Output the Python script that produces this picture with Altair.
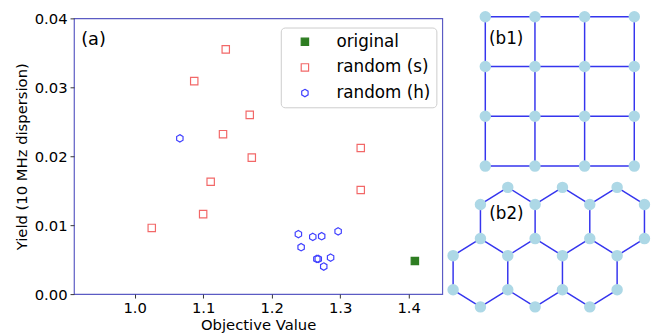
import altair as alt
import pandas as pd

# ---------------- data ----------------
orig_x = [1.409]
orig_y = [0.0048]

rand_s_x = [1.133, 1.087, 1.168, 1.129, 1.330, 1.171, 1.111, 1.330, 1.100, 1.025]
rand_s_y = [0.0355, 0.0309, 0.0260, 0.0232, 0.0212, 0.0198, 0.0163, 0.0151, 0.0116, 0.0096]

rand_h_x = [1.066, 1.239, 1.260, 1.273, 1.297, 1.243, 1.266, 1.268, 1.286, 1.276]
rand_h_y = [0.0226, 0.0087, 0.0083, 0.0084, 0.0091, 0.0068, 0.0051, 0.0051, 0.0053, 0.0040]

series_names = ["original", "random (s)", "random (h)"]
x_ticks = [1.0, 1.1, 1.2, 1.3, 1.4]
y_ticks = [0.0, 0.01, 0.02, 0.03, 0.04]

# square lattice (b1): 4 x 4 nodes
grid_cols = [0, 1, 2, 3]
grid_rows = [0, 1, 2, 3]

# honeycomb lattice (b2): node positions in lattice units (column index, row level)
hex_cols = [2, 4, 6, 1, 3, 5, 7, 1, 3, 5, 7, 0, 2, 4, 6, 0, 2, 4, 6, 1, 3, 5]
hex_rows = [0, 0, 0, 0.5, 0.5, 0.5, 0.5, 1.5, 1.5, 1.5, 1.5, 2, 2, 2, 2, 3, 3, 3, 3, 3.5, 3.5, 3.5]

# ---------------- tables ----------------
pts = pd.DataFrame({
    "x": orig_x + rand_s_x + rand_h_x,
    "y": orig_y + rand_s_y + rand_h_y,
    "series": [series_names[0]] * len(orig_x)
    + [series_names[1]] * len(rand_s_x)
    + [series_names[2]] * len(rand_h_x),
})

sq_nodes = pd.DataFrame([{"c": c, "r": r} for r in grid_rows for c in grid_cols])
sq_edges = []
for i, a in sq_nodes.iterrows():
    for j, b in sq_nodes.iterrows():
        if j > i and abs(a.c - b.c) + abs(a.r - b.r) == 1:
            sq_edges.append({"c": a.c, "r": a.r, "c2": b.c, "r2": b.r})
sq_edges = pd.DataFrame(sq_edges)

hex_nodes = pd.DataFrame({"c": hex_cols, "r": hex_rows})
hex_edges = []
for i in range(len(hex_cols)):
    for j in range(i + 1, len(hex_cols)):
        dc = abs(hex_cols[i] - hex_cols[j])
        dr = abs(hex_rows[i] - hex_rows[j])
        if (dc == 1 and dr == 0.5) or (dc == 0 and dr == 1):
            hex_edges.append({"c": hex_cols[i], "r": hex_rows[i],
                              "c2": hex_cols[j], "r2": hex_rows[j]})
hex_edges = pd.DataFrame(hex_edges)

FONT = "DejaVu Sans"
HEX = "M0,-1L0.866,-0.5L0.866,0.5L0,1L-0.866,0.5L-0.866,-0.5Z"

# ---------------- scatter (a) ----------------
xs = alt.Scale(domain=[0.9115, 1.449], nice=False, zero=False)
ys = alt.Scale(domain=[0, 0.04], nice=False)

points = alt.Chart(pts).mark_point(strokeWidth=1.2, opacity=1).encode(
    x=alt.X("x:Q", scale=xs, title="Objective Value",
            axis=alt.Axis(values=x_ticks, format=".1f")),
    y=alt.Y("y:Q", scale=ys, title="Yield (10 MHz dispersion)",
            axis=alt.Axis(values=y_ticks, format=".2f")),
    shape=alt.Shape("series:N", scale=alt.Scale(domain=series_names, range=["square", "square", HEX]), title=None),
    stroke=alt.Stroke("series:N", scale=alt.Scale(domain=series_names, range=["#2e7d22", "#f26868", "#4040ff"]), title=None),
    fill=alt.Fill("series:N", scale=alt.Scale(domain=series_names, range=["#2e7d22", "transparent", "transparent"]), title=None),
    size=alt.Size("series:N", scale=alt.Scale(domain=series_names, range=[56, 56, 40]), title=None),
)

label_a = alt.Chart(pd.DataFrame({"x": [0.940], "y": [0.0369], "t": ["(a)"]})).mark_text(
    fontSize=18, font=FONT, color="black", align="center", baseline="middle"
).encode(x=alt.X("x:Q", scale=xs), y=alt.Y("y:Q", scale=ys), text="t:N")

scatter = alt.layer(points, label_a).properties(
    width=374, height=280,
    view=alt.ViewBackground(stroke="#5b5bc4", strokeWidth=1.2),
)

# ---------------- lattice (b1) ----------------
b1x = alt.Scale(domain=[-0.767, 3.397], nice=False, zero=False)
b1y = alt.Scale(domain=[0.034, 3.198], nice=False, zero=False, reverse=True)

e1 = alt.Chart(sq_edges).mark_rule(color="#3535ee", strokeWidth=1.5).encode(
    x=alt.X("c:Q", scale=b1x, axis=None), y=alt.Y("r:Q", scale=b1y, axis=None),
    x2="c2:Q", y2="r2:Q")
n1 = alt.Chart(sq_nodes).mark_circle(color="#add8e6", opacity=1, size=135).encode(
    x=alt.X("c:Q", scale=b1x, axis=None), y=alt.Y("r:Q", scale=b1y, axis=None))
t1 = alt.Chart(pd.DataFrame({"c": [0.42], "r": [0.45], "t": ["(b1)"]})).mark_text(
    fontSize=17, font=FONT, color="black", align="center", baseline="middle"
).encode(x=alt.X("c:Q", scale=b1x, axis=None), y=alt.Y("r:Q", scale=b1y, axis=None), text="t:N")

b1 = alt.layer(e1, n1, t1).properties(
    width=210, height=160, view=alt.ViewBackground(stroke="transparent"))

# ---------------- lattice (b2) ----------------
b2x = alt.Scale(domain=[-0.216, 7.349], nice=False, zero=False)
b2y = alt.Scale(domain=[-0.219, 3.126], nice=False, zero=False, reverse=True)

e2 = alt.Chart(hex_edges).mark_rule(color="#3535ee", strokeWidth=1.5).encode(
    x=alt.X("c:Q", scale=b2x, axis=None), y=alt.Y("r:Q", scale=b2y, axis=None),
    x2="c2:Q", y2="r2:Q")
n2 = alt.Chart(hex_nodes).mark_circle(color="#add8e6", opacity=1, size=135).encode(
    x=alt.X("c:Q", scale=b2x, axis=None), y=alt.Y("r:Q", scale=b2y, axis=None))
t2 = alt.Chart(pd.DataFrame({"c": [1.95], "r": [0.78], "t": ["(b2)"]})).mark_text(
    fontSize=17, font=FONT, color="black", align="center", baseline="middle"
).encode(x=alt.X("c:Q", scale=b2x, axis=None), y=alt.Y("r:Q", scale=b2y, axis=None), text="t:N")

b2 = alt.layer(e2, n2, t2).properties(
    width=210, height=116, view=alt.ViewBackground(stroke="transparent"))

right = alt.vconcat(b1, b2, spacing=4, bounds="flush")

chart = alt.hconcat(scatter, right, spacing=5, bounds="flush").properties(
    padding={"left": 6, "top": 0, "right": 0, "bottom": 0}
).configure_axis(
    labelFont=FONT, titleFont=FONT, labelFontSize=15, titleFontSize=15,
    labelColor="black", titleColor="black", titleFontWeight="normal",
    tickColor="#333333", tickSize=4, domain=False, grid=False,
    labelPadding=3,
).configure_axisX(titlePadding=2).configure_axisY(titlePadding=5).configure_legend(
    orient="none", legendX=210, legendY=9.3,
    fillColor="white", strokeColor="#cccccc", cornerRadius=4, padding=6,
    labelFont=FONT, labelFontSize=17, labelColor="black",
    symbolOffset=10, labelOffset=23.5, rowPadding=8, symbolStrokeWidth=1.2,
).configure_view(strokeWidth=0)

chart.save("out.html", embed_options={"renderer": "svg", "actions": False})
